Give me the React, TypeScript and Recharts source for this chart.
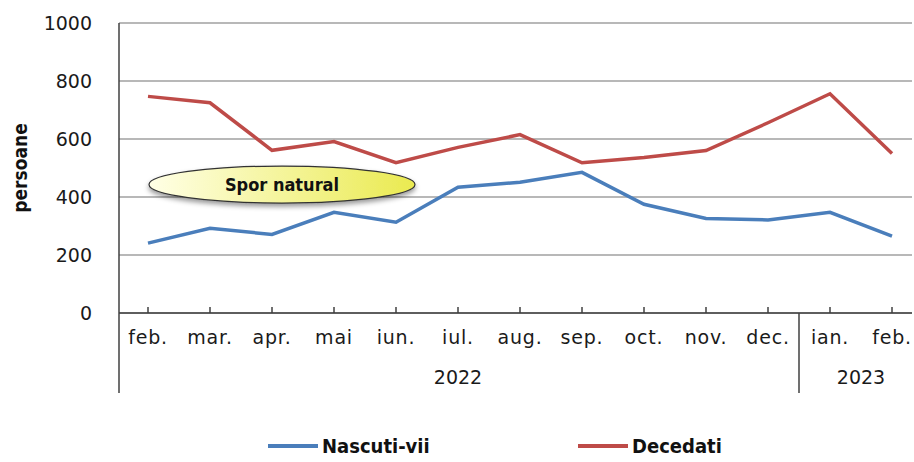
import { CartesianGrid, Legend, Line, LineChart, ReferenceDot, XAxis, YAxis } from "recharts";

const months = ["feb.", "mar.", "apr.", "mai", "iun.", "iul.", "aug.", "sep.", "oct.", "nov.", "dec.", "ian.", "feb."];
const years = ["2022", "2022", "2022", "2022", "2022", "2022", "2022", "2022", "2022", "2022", "2022", "2023", "2023"];
const nascuti = [241, 292, 271, 347, 313, 434, 451, 485, 375, 326, 321, 347, 265];
const decedati = [747, 725, 561, 591, 518, 571, 615, 518, 536, 560, 656, 756, 550];
const yTicks = [0, 200, 400, 600, 800, 1000];

const data = months.map((m, i) => ({ key: i, month: m, year: years[i], nascuti: nascuti[i], decedati: decedati[i] }));

const BLUE = "#4a7ebb";
const RED = "#be4b48";
const AXIS = "#404040";
const FONT = "'DejaVu Sans', sans-serif";
const BOLD_FONT = "'DejaVu Sans Condensed', 'DejaVu Sans', sans-serif";
const STEP = 62; // category spacing in px
const PAD_LEFT = 29;

function MonthTick(props: any) {
  const { x, y, index } = props;
  const row = data[index];
  const prev = data[index - 1];
  const next = data[index + 1];
  const parts: any[] = [];
  parts.push(<line key="t" x1={x} x2={x} y1={y - 6} y2={y} stroke={AXIS} strokeWidth={1.5} />);
  parts.push(
    <text key="m" x={x} y={y + 31} textAnchor="middle" fontFamily={FONT} fontSize={19} fill="#1a1a1a" letterSpacing={0.8}>
      {row.month}
    </text>
  );
  if (!prev) {
    parts.push(<line key="s0" x1={x - PAD_LEFT} x2={x - PAD_LEFT} y1={y} y2={y + 80} stroke={AXIS} strokeWidth={1.5} />);
  } else if (prev.year !== row.year) {
    parts.push(<line key="s" x1={x - STEP / 2} x2={x - STEP / 2} y1={y} y2={y + 80} stroke={AXIS} strokeWidth={1.5} />);
  }
  if (!next || next.year !== row.year) {
    const count = data.filter((d) => d.year === row.year).length;
    const cx = x - ((count - 1) * STEP) / 2;
    parts.push(
      <text key="y" x={cx} y={y + 71} textAnchor="middle" fontFamily={FONT} fontSize={19} fill="#1a1a1a">
        {row.year}
      </text>
    );
  }
  return <g>{parts}</g>;
}

function SporShape(props: any) {
  const { cx, cy } = props;
  const x = cx + 10;
  return (
    <g>
      <defs>
        <linearGradient id="spor" x1="0" x2="1" y1="0" y2="0">
          <stop offset="0%" stopColor="#ffffe6" />
          <stop offset="100%" stopColor="#eaea50" />
        </linearGradient>
        <filter id="shadow" x="-20%" y="-50%" width="140%" height="200%">
          <feDropShadow dx="0" dy="3" stdDeviation="2.5" floodColor="#000" floodOpacity="0.4" />
        </filter>
      </defs>
      <ellipse cx={x} cy={cy} rx={133} ry={18.5} fill="url(#spor)" stroke="#333" strokeWidth={1.2} filter="url(#shadow)" />
      <text x={x} y={cy + 6.5} textAnchor="middle" fontFamily={BOLD_FONT} fontWeight="bold" fontSize={18} fill="#111">
        Spor natural
      </text>
    </g>
  );
}

function LegendContent() {
  const items = [
    { name: "Nascuti-vii", color: BLUE, left: 268 },
    { name: "Decedati", color: RED, left: 578 },
  ];
  return (
    <svg width={914} height={30} style={{ display: "block" }}>
      {items.map((it) => (
        <g key={it.name}>
          <line x1={it.left} x2={it.left + 50} y1={14} y2={14} stroke={it.color} strokeWidth={4} />
          <text x={it.left + 54} y={21} fontFamily={BOLD_FONT} fontWeight="bold" fontSize={20} fill="#111">
            {it.name}
          </text>
        </g>
      ))}
    </svg>
  );
}

export default function App() {
  return (
    <div style={{ position: "fixed", left: 0, top: 0, width: 914, height: 462, background: "#fff" }}>
      <LineChart width={914} height={462} data={data} margin={{ top: 23, right: 2, left: 0, bottom: 19 }}>
        <CartesianGrid vertical={false} stroke="#a0a0a0" strokeWidth={1.5} />
        <XAxis
          dataKey="key"
          type="category"
          interval={0}
          padding={{ left: PAD_LEFT, right: 20 }}
          axisLine={{ stroke: AXIS, strokeWidth: 1.5 }}
          tickLine={false}
          tickSize={0}
          tickMargin={0}
          tick={<MonthTick />}
          height={100}
        />
        <YAxis
          domain={[0, 1000]}
          ticks={yTicks}
          width={119}
          axisLine={{ stroke: AXIS, strokeWidth: 1.5 }}
          tickLine={false}
          tickSize={6}
          tickMargin={21}
          tick={{ fontFamily: FONT, fontSize: 19, fill: "#1a1a1a" }}
          label={{
            value: "persoane",
            angle: -90,
            position: "insideLeft",
            offset: 20,
            style: { fontFamily: BOLD_FONT, fontWeight: "bold", fontSize: 19, fill: "#111", textAnchor: "middle" },
          }}
        />
        <ReferenceDot x={2} y={443} shape={<SporShape />} ifOverflow="visible" />
        <Line type="linear" dataKey="nascuti" name="Nascuti-vii" stroke={BLUE} strokeWidth={3.5} dot={false} isAnimationActive={false} />
        <Line type="linear" dataKey="decedati" name="Decedati" stroke={RED} strokeWidth={3.5} dot={false} isAnimationActive={false} />
        <Legend content={<LegendContent />} wrapperStyle={{ left: 0, top: 432, width: 914, height: 30 }} />
      </LineChart>
    </div>
  );
}
